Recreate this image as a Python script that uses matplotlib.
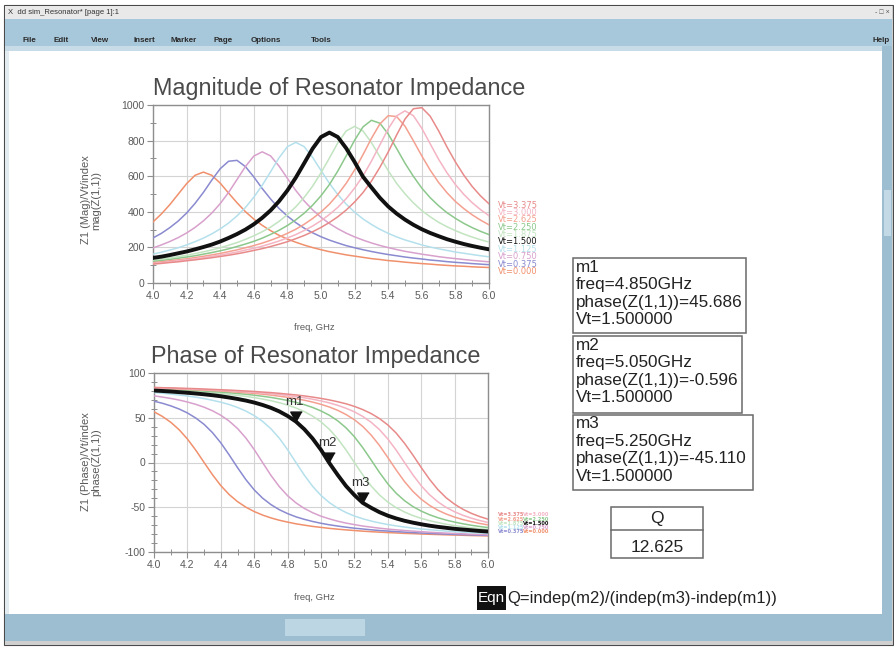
import matplotlib
matplotlib.use("Agg")
import matplotlib.pyplot as plt
from matplotlib.patches import Rectangle
from matplotlib.ticker import MultipleLocator

plt.rcParams['font.family'] = ['Liberation Sans', 'DejaVu Sans']
plt.rcParams['axes.unicode_minus'] = False

# frequency sweep (GHz)
freq = [4.00, 4.05, 4.10, 4.15, 4.20, 4.25, 4.30, 4.35, 4.40, 4.45,
        4.50, 4.55, 4.60, 4.65, 4.70, 4.75, 4.80, 4.85, 4.90, 4.95,
        5.00, 5.05, 5.10, 5.15, 5.20, 5.25, 5.30, 5.35, 5.40, 5.45,
        5.50, 5.55, 5.60, 5.65, 5.70, 5.75, 5.80, 5.85, 5.90, 5.95, 6.00]

vt_labels = ["Vt=0.000", "Vt=0.375", "Vt=0.750", "Vt=1.125", "Vt=1.500",
             "Vt=1.875", "Vt=2.250", "Vt=2.625", "Vt=3.000", "Vt=3.375"]

# mag(Z(1,1)) per Vt
mag_vt0 = [343, 388, 440, 499, 558, 605, 623, 605, 561, 505, 451, 401, 359, 324, 294, 268, 247, 229, 213, 199,
           187, 176, 167, 158, 151, 144, 137, 132, 126, 122, 117, 113, 109, 106, 102, 99, 96, 94, 91, 89, 87]
mag_vt1 = [253, 279, 311, 348, 393, 447, 509, 578, 642, 684, 689, 654, 596, 531, 472, 419, 376, 339, 308, 282,
           260, 241, 225, 210, 198, 187, 177, 168, 160, 153, 146, 140, 135, 129, 125, 120, 116, 113, 109, 106, 103]
mag_vt2 = [197, 214, 233, 255, 281, 312, 349, 393, 446, 509, 581, 654, 713, 737, 714, 657, 588, 520, 461, 411,
           369, 334, 305, 280, 259, 241, 225, 211, 199, 188, 178, 170, 162, 155, 148, 142, 137, 132, 127, 123, 119]
mag_vt3 = [162, 173, 185, 198, 214, 232, 252, 276, 304, 337, 377, 424, 482, 549, 625, 703, 766, 790, 766, 706,
           632, 560, 497, 443, 398, 360, 329, 302, 279, 259, 242, 228, 214, 202, 192, 183, 174, 167, 160, 153, 147]
mag_vt4 = [141, 148, 157, 167, 177, 189, 202, 216, 233, 253, 275, 300, 330, 366, 408, 459, 520, 592, 673, 755,
           820, 845, 820, 757, 680, 597, 537, 479, 430, 390, 356, 327, 302, 281, 263, 246, 232, 219, 208, 198, 189]
mag_vt5 = [127, 134, 141, 148, 156, 165, 175, 186, 198, 212, 227, 245, 265, 288, 314, 346, 384, 428, 481, 544,
           619, 702, 787, 854, 880, 854, 789, 710, 631, 560, 501, 450, 407, 372, 341, 316, 294, 275, 258, 243, 230]
mag_vt6 = [121, 126, 132, 139, 146, 153, 162, 171, 181, 192, 205, 219, 234, 252, 273, 296, 323, 355, 392, 437,
           490, 553, 629, 714, 802, 877, 914, 898, 837, 756, 673, 599, 533, 479, 434, 395, 363, 335, 311, 290, 272]
mag_vt7 = [114, 119, 125, 130, 136, 143, 150, 158, 166, 176, 186, 198, 210, 224, 240, 258, 279, 302, 330, 362,
           399, 443, 497, 560, 635, 721, 812, 893, 940, 935, 881, 799, 714, 634, 565, 507, 458, 418, 383, 353, 327]
mag_vt8 = [110, 114, 119, 125, 130, 136, 142, 150, 157, 165, 174, 185, 195, 207, 221, 236, 253, 272, 295, 320,
           350, 385, 425, 474, 533, 602, 684, 775, 866, 939, 967, 940, 869, 782, 695, 619, 553, 498, 451, 412, 378]
mag_vt9 = [106, 110, 115, 119, 125, 130, 136, 142, 149, 156, 164, 173, 183, 193, 205, 218, 232, 249, 267, 288,
           312, 340, 372, 410, 455, 508, 572, 649, 736, 831, 921, 979, 985, 937, 855, 764, 680, 606, 542, 489, 445]

# phase(Z(1,1)) per Vt, degrees
ph_vt0 = [56.7, 51.5, 45.0, 36.7, 26.3, 13.8, 0.0, -13.6, -25.8, -35.8, -43.7, -49.9, -54.8, -58.7, -61.9,
          -64.5, -66.6, -68.5, -70.0, -71.4, -72.5, -73.6, -74.5, -75.3, -76.0, -76.7, -77.3, -77.8, -78.3,
          -78.7, -79.2, -79.5, -79.9, -80.2, -80.5, -80.8, -81.1, -81.3, -81.6, -81.8, -82.0]
ph_vt1 = [68.5, 66.2, 63.3, 59.8, 55.4, 49.7, 42.6, 33.4, 22.0, 8.5, -5.7, -19.1, -30.6, -39.8, -47.0,
          -52.7, -57.1, -60.7, -63.5, -65.9, -67.9, -69.6, -71.0, -72.3, -73.4, -74.3, -75.2, -76.0, -76.6,
          -77.2, -77.8, -78.3, -78.8, -79.2, -79.6, -80.0, -80.3, -80.6, -80.9, -81.2, -81.4]
ph_vt2 = [74.5, 73.1, 71.6, 69.8, 67.6, 65.0, 61.8, 57.8, 52.8, 46.3, 38.0, 27.4, 14.5, 0.0, -14.3,
          -26.9, -37.1, -45.1, -51.3, -56.1, -60.0, -63.0, -65.6, -67.7, -69.4, -71.0, -72.2, -73.4, -74.4,
          -75.2, -76.0, -76.7, -77.3, -77.9, -78.4, -78.9, -79.3, -79.7, -80.1, -80.4, -80.7]
ph_vt3 = [78.2, 77.4, 76.5, 75.4, 74.3, 73.0, 71.4, 69.5, 67.4, 64.8, 61.5, 57.5, 52.4, 46.0, 37.7,
          27.2, 14.3, 0.0, -14.1, -26.7, -36.8, -44.8, -51.0, -55.9, -59.8, -62.9, -65.4, -67.5, -69.3,
          -70.8, -72.1, -73.3, -74.3, -75.1, -75.9, -76.6, -77.3, -77.8, -78.4, -78.8, -79.3]
ph_vt4 = [80.4, 79.9, 79.3, 78.6, 77.9, 77.1, 76.2, 75.2, 74.0, 72.6, 71.0, 69.2, 67.0, 64.3, 61.1,
          57.1, 52.0, 45.7, 37.2, 26.7, 14.1, -0.6, -13.9, -26.3, -36.4, -45.1, -50.6, -55.5, -59.4,
          -62.5, -65.1, -67.2, -69.0, -70.6, -71.9, -73.0, -74.1, -74.9, -75.7, -76.5, -77.1]
ph_vt5 = [81.7, 81.3, 80.8, 80.3, 79.8, 79.2, 78.5, 77.8, 77.0, 76.1, 75.0, 73.9, 72.5, 70.9, 69.1,
          66.8, 64.2, 60.9, 56.9, 51.8, 45.4, 37.1, 26.6, 14.0, 0.0, -13.8, -26.2, -36.2, -44.2,
          -50.5, -55.3, -59.3, -62.4, -65.0, -67.1, -69.0, -70.5, -71.8, -73.0, -74.0, -74.9]
ph_vt6 = [82.4, 82.1, 81.7, 81.3, 80.8, 80.4, 79.8, 79.2, 78.6, 77.9, 77.1, 76.2, 75.2, 74.0, 72.7,
          71.1, 69.3, 67.2, 64.6, 61.5, 57.6, 52.8, 46.6, 38.7, 28.8, 16.6, 2.9, -11.1, -23.8,
          -34.3, -42.6, -49.2, -54.3, -58.4, -61.7, -64.4, -66.6, -68.5, -70.1, -71.5, -72.7]
ph_vt7 = [83.1, 82.8, 82.4, 82.1, 81.7, 81.3, 80.9, 80.4, 79.9, 79.3, 78.6, 77.9, 77.2, 76.3, 75.3,
          74.1, 72.8, 71.3, 69.6, 67.5, 65.0, 62.0, 58.3, 53.6, 47.8, 40.3, 30.7, 19.1, 5.6,
          -8.3, -21.3, -32.2, -41.0, -47.9, -53.3, -57.6, -61.0, -63.8, -66.1, -68.1, -69.7]
ph_vt8 = [83.5, 83.2, 82.9, 82.6, 82.3, 81.9, 81.5, 81.1, 80.7, 80.2, 79.6, 79.0, 78.4, 77.6, 76.8,
          75.9, 74.8, 73.6, 72.3, 70.7, 68.8, 66.6, 63.9, 60.6, 56.6, 51.5, 45.0, 36.8, 26.3,
          13.9, 0.0, -13.7, -26.0, -36.0, -44.0, -50.2, -55.1, -59.0, -62.2, -64.8, -67.0]
ph_vt9 = [83.9, 83.6, 83.4, 83.1, 82.8, 82.5, 82.1, 81.7, 81.3, 80.9, 80.4, 79.9, 79.4, 78.7, 78.1,
          77.3, 76.4, 75.5, 74.4, 73.1, 71.6, 69.9, 67.9, 65.6, 62.7, 59.1, 54.7, 49.1, 42.0,
          32.9, 21.5, 8.4, -5.6, -18.8, -30.3, -39.5, -46.6, -52.3, -56.8, -60.4, -63.3]

# markers on the Vt=1.5 trace
marker_names = ["m1", "m2", "m3"]
marker_freq = [4.850, 5.050, 5.250]
marker_phase = [45.686, -0.596, -45.110]
marker_vt = 1.5

mags = [mag_vt0, mag_vt1, mag_vt2, mag_vt3, mag_vt4, mag_vt5, mag_vt6, mag_vt7, mag_vt8, mag_vt9]
phases = [ph_vt0, ph_vt1, ph_vt2, ph_vt3, ph_vt4, ph_vt5, ph_vt6, ph_vt7, ph_vt8, ph_vt9]
colors = ['#f0906c', '#8a8ad0', '#d8a0cc', '#b4e0ec', '#111111',
          '#c2e4c0', '#8cc88c', '#f4a090', '#f4b4c4', '#e88a8a']
sel = 4  # Vt=1.500 highlighted trace

q_value = marker_freq[1] / (marker_freq[2] - marker_freq[0])

W, H = 895, 649
fig = plt.figure(figsize=(W / 100, H / 100), dpi=100)

# window chrome, drawn in pixel coords
bg = fig.add_axes([0, 0, 1, 1], zorder=0)
bg.set_xlim(0, W)
bg.set_ylim(H, 0)
bg.axis('off')


def box(x0, y0, x1, y1, fc, ec='none', lw=0.0, z=1):
    bg.add_patch(Rectangle((x0, y0), x1 - x0, y1 - y0, facecolor=fc,
                           edgecolor=ec, linewidth=lw, zorder=z))


box(0, 0, W, H, 'white')
box(4, 5, 893, 645, '#d4d4d4', ec='#4a4a4a', lw=0.8)
box(5, 6, 892, 19, '#e9e9e9')
box(5, 19, 892, 46, '#a7c7da')
box(5, 46, 892, 51, '#c8dce7')
box(5, 51, 9, 614, '#e2ebf0')
box(9, 51, 882, 614, 'white')
box(882, 46, 892, 641, '#9dbed1')
box(884, 190, 891, 236, '#c3d9e6')
box(5, 614, 882, 641, '#9dbed1')
box(285, 619, 365, 636, '#bdd6e4')
box(5, 641, 892, 645, '#cfcfcf')

bg.text(8, 12.5, "X  dd sim_Resonator* [page 1]:1", fontsize=5.5, color='#333333', va='center')
bg.text(890, 12.5, "- \u25a1 \u00d7", fontsize=5, color='#555555', va='center', ha='right')
menu = [("File", 23), ("Edit", 54), ("View", 91), ("Insert", 134), ("Marker", 171),
        ("Page", 214), ("Options", 251), ("Tools", 311), ("Help", 873)]
for name, x in menu:
    bg.text(x, 40, name, fontsize=5.8, fontweight='bold', color='#2a2a2a', va='center', ha='left')

# plots
ax_mag = fig.add_axes([153 / W, 1 - 283 / H, 336 / W, 178 / H], zorder=2)
ax_ph = fig.add_axes([154 / W, 1 - 552 / H, 334 / W, 179 / H], zorder=2)


def style(ax, lo, hi, major, minor):
    ax.set_xlim(4.0, 6.0)
    ax.set_ylim(lo, hi)
    ax.xaxis.set_major_locator(MultipleLocator(0.2))
    ax.xaxis.set_minor_locator(MultipleLocator(0.1))
    ax.yaxis.set_major_locator(MultipleLocator(major))
    ax.yaxis.set_minor_locator(MultipleLocator(minor))
    ax.grid(True, which='major', color='#d4d4d4', linewidth=0.8)
    ax.set_axisbelow(True)
    for s in ax.spines.values():
        s.set_color('#8e8e8e')
        s.set_linewidth(1.0)
    ax.tick_params(which='major', direction='out', length=4, width=0.8, color='#8e8e8e',
                   labelsize=7.5, labelcolor='#5a5a5a', pad=2)
    ax.tick_params(which='minor', direction='inout', length=4, width=0.7, color='#8e8e8e')


style(ax_mag, 0, 1000, 200, 100)
style(ax_ph, -100, 100, 50, 10)

for i in range(len(mags)):
    if i == sel:
        continue
    ax_mag.plot(freq, mags[i], color=colors[i], lw=1.1, zorder=3)
    ax_ph.plot(freq, phases[i], color=colors[i], lw=1.1, zorder=3)
ax_mag.plot(freq, mags[sel], color=colors[sel], lw=2.8, zorder=4, solid_capstyle='round')
ax_ph.plot(freq, phases[sel], color=colors[sel], lw=2.8, zorder=4, solid_capstyle='round')

# trace labels right of each plot, stacked in the order of the trace end values
n = len(mags)
mag_order = sorted(range(n), key=lambda i: -mags[i][-1])
for r, i in enumerate(mag_order):
    bg.text(498, 205 + r * 7.4, vt_labels[i], fontsize=6.0, family='DejaVu Sans',
            color=colors[i], va='center', ha='left')
# phase traces all end close together: labels packed into a small block
ph_order = sorted(range(n), key=lambda i: -phases[i][-1])
for r, i in enumerate(ph_order):
    bg.text(498 + (r % 2) * 25, 515 + (r // 2) * 4.2, vt_labels[i], fontsize=3.6,
            family='DejaVu Sans', fontweight='bold', color=colors[i], va='center', ha='left')

tri = [(0, 0), (-0.55, 1.0), (0.55, 1.0)]
for name, f, p in zip(marker_names, marker_freq, marker_phase):
    ax_ph.plot([f], [p], marker=tri, markersize=15, color='#111111', linestyle='none', zorder=6)
    ax_ph.annotate(name, (f, p), xytext=(-2, 20), textcoords='offset pixels', ha='center',
                   va='center', fontsize=9.5, color='#333333', zorder=7)

# titles and axis labels
bg.text(339, 88, "Magnitude of Resonator Impedance", fontsize=16.8, color='#4a4a4a',
        ha='center', va='center')
bg.text(316, 356, "Phase of Resonator Impedance", fontsize=16.8, color='#4a4a4a',
        ha='center', va='center')
bg.text(314, 327, "freq, GHz", fontsize=6.8, color='#5a5a5a', ha='center', va='center')
bg.text(314, 597, "freq, GHz", fontsize=6.8, color='#5a5a5a', ha='center', va='center')
bg.text(91, 200, "Z1 (Mag)/Vt/index\nmag(Z(1,1))", rotation=90, fontsize=8, color='#5a5a5a',
        ha='center', va='center', linespacing=1.0, multialignment='center')
bg.text(91, 462, "Z1 (Phase)/Vt/index\nphase(Z(1,1))", rotation=90, fontsize=8, color='#5a5a5a',
        ha='center', va='center', linespacing=1.0, multialignment='center')

# marker readouts
box_tops = [258, 336, 415]
box_bottoms = [333, 413, 490]
box_rights = [746, 742, 753]
for k, (name, f, p) in enumerate(zip(marker_names, marker_freq, marker_phase)):
    box(573, box_tops[k], box_rights[k], box_bottoms[k], 'white', ec='#6a6a6a', lw=1.1, z=2)
    lines = [name, f"freq={f:.3f}GHz", f"phase(Z(1,1))={p:.3f}", f"Vt={marker_vt:.6f}"]
    for j, s in enumerate(lines):
        bg.text(576, box_tops[k] + 9 + j * 17.5, s, fontsize=12.3, color='#222222',
                ha='left', va='center', zorder=3)

# Q table
box(611, 507, 703, 558, 'white', ec='#6a6a6a', lw=1.1, z=2)
bg.plot([611, 703], [530, 530], color='#6a6a6a', lw=1.1, zorder=3)
bg.text(657, 518.5, "Q", fontsize=12.5, color='#222222', ha='center', va='center', zorder=3)
bg.text(657, 547, f"{q_value:.3f}", fontsize=12.5, color='#222222', ha='center', va='center', zorder=3)

# equation
box(477, 586, 506, 610, '#111111', z=2)
bg.text(491.5, 598, "Eqn", fontsize=11, color='white', ha='center', va='center', zorder=3)
bg.text(507, 598, "Q=indep(m2)/(indep(m3)-indep(m1))", fontsize=12, color='#222222',
        ha='left', va='center', zorder=3)

fig.savefig("out.png", dpi=100)
